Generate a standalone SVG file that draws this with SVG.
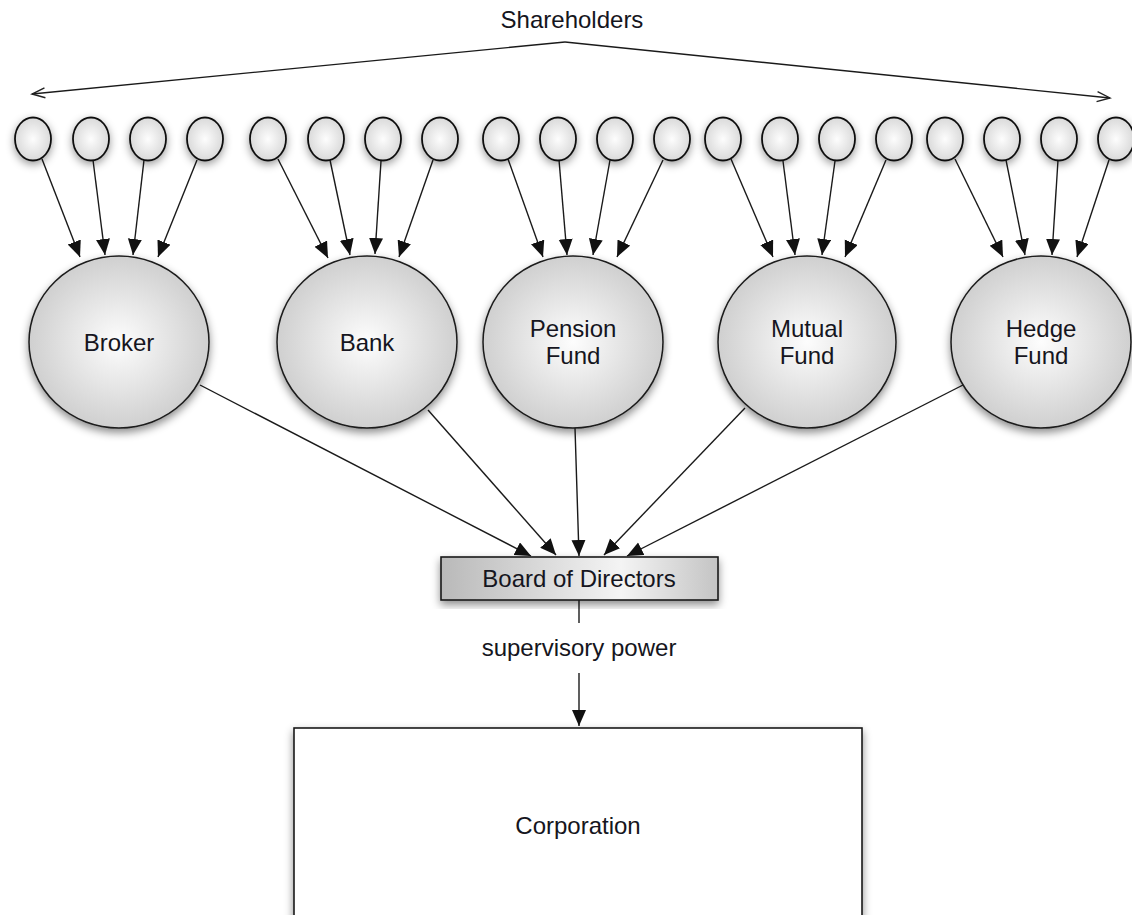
<svg xmlns="http://www.w3.org/2000/svg" width="1132" height="915" viewBox="0 0 1132 915">
<style>
text{font-family:"Liberation Sans",Arial,sans-serif;font-size:24px;fill:#151520;text-anchor:middle}
.sh{fill:url(#gs);stroke:#111;stroke-width:1.8;filter:url(#shadow)}
.big{fill:url(#gb);stroke:#1a1a1a;stroke-width:1.5;filter:url(#shadow2)}
.c{stroke:#1a1a1a;stroke-width:1.4;fill:none}
.a{marker-end:url(#ah)}
.o{marker-end:url(#oh)}
</style>
<defs>
<radialGradient id="gs" cx="50%" cy="50%" r="55%"><stop offset="0" stop-color="#fdfdfd"/><stop offset="1" stop-color="#d6d6d6"/></radialGradient>
<radialGradient id="gb" cx="50%" cy="50%" r="55%"><stop offset="0" stop-color="#fdfdfd"/><stop offset="1" stop-color="#cbcbcb"/></radialGradient>
<linearGradient id="gr" x1="0" y1="0" x2="1" y2="0"><stop offset="0" stop-color="#b9b9b9"/><stop offset="0.65" stop-color="#f4f4f4"/><stop offset="1" stop-color="#c4c4c4"/></linearGradient>
<filter id="shadow" x="-60%" y="-60%" width="220%" height="220%"><feDropShadow dx="0" dy="3" stdDeviation="4.5" flood-color="#000" flood-opacity="0.4"/></filter>
<filter id="shadow2" x="-20%" y="-20%" width="140%" height="140%"><feDropShadow dx="0" dy="4" stdDeviation="4" flood-color="#000" flood-opacity="0.45"/></filter>
<marker id="ah" markerUnits="userSpaceOnUse" markerWidth="17" markerHeight="15" refX="16" refY="7" orient="auto"><path d="M0,0 L16,7 L0,14 z" fill="#111"/></marker>
<marker id="oh" markerUnits="userSpaceOnUse" markerWidth="16" markerHeight="14" refX="14" refY="6" orient="auto"><path d="M1,1 L14,6 L1,11" fill="none" stroke="#222" stroke-width="1.4"/></marker>
</defs>
<rect width="1132" height="915" fill="#fff"/>

<g id="shareholders-label"><text x="572" y="28">Shareholders</text></g>

<g id="connectors">
<line class="c o" x1="565" y1="42" x2="32" y2="94"/>
<line class="c o" x1="565" y1="42" x2="1110" y2="98"/>
<line class="c a" x1="42" y1="159" x2="80" y2="257"/>
<line class="c a" x1="93" y1="160" x2="105" y2="255"/>
<line class="c a" x1="144" y1="160" x2="133" y2="255"/>
<line class="c a" x1="197" y1="160" x2="158" y2="257"/>
<line class="c a" x1="278" y1="159" x2="328" y2="258"/>
<line class="c a" x1="330" y1="160" x2="350" y2="255"/>
<line class="c a" x1="381" y1="161" x2="375" y2="254"/>
<line class="c a" x1="433" y1="160" x2="399" y2="257"/>
<line class="c a" x1="508" y1="159" x2="543" y2="257"/>
<line class="c a" x1="559" y1="160" x2="567" y2="255"/>
<line class="c a" x1="610" y1="160" x2="593" y2="255"/>
<line class="c a" x1="663" y1="160" x2="617" y2="257"/>
<line class="c a" x1="731" y1="159" x2="773" y2="257"/>
<line class="c a" x1="783" y1="161" x2="795" y2="255"/>
<line class="c a" x1="835" y1="161" x2="822" y2="255"/>
<line class="c a" x1="886" y1="160" x2="845" y2="257"/>
<line class="c a" x1="955" y1="159" x2="1003" y2="257"/>
<line class="c a" x1="1006" y1="160" x2="1025" y2="255"/>
<line class="c a" x1="1058" y1="160" x2="1052" y2="255"/>
<line class="c a" x1="1109" y1="160" x2="1077" y2="257"/>
<line class="c a" x1="200" y1="385" x2="531" y2="556"/>
<line class="c a" x1="428" y1="410" x2="556" y2="555"/>
<line class="c a" x1="575" y1="428" x2="579" y2="556"/>
<line class="c a" x1="745" y1="408" x2="604" y2="555"/>
<line class="c a" x1="963" y1="385" x2="627" y2="556"/>
<line class="c" x1="579" y1="600" x2="579" y2="623"/>
<line class="c a" x1="579" y1="673" x2="579" y2="726"/>
</g>

<g id="small-circles">
<g id="s1"><ellipse class="sh" cx="33" cy="139" rx="18" ry="21.5"/></g>
<g id="s2"><ellipse class="sh" cx="91" cy="139" rx="18" ry="21.5"/></g>
<g id="s3"><ellipse class="sh" cx="148" cy="139" rx="18" ry="21.5"/></g>
<g id="s4"><ellipse class="sh" cx="205" cy="139" rx="18" ry="21.5"/></g>
<g id="s5"><ellipse class="sh" cx="268" cy="139" rx="18" ry="21.5"/></g>
<g id="s6"><ellipse class="sh" cx="326" cy="139" rx="18" ry="21.5"/></g>
<g id="s7"><ellipse class="sh" cx="383" cy="139" rx="18" ry="21.5"/></g>
<g id="s8"><ellipse class="sh" cx="440" cy="139" rx="18" ry="21.5"/></g>
<g id="s9"><ellipse class="sh" cx="501" cy="139" rx="18" ry="21.5"/></g>
<g id="s10"><ellipse class="sh" cx="558" cy="139" rx="18" ry="21.5"/></g>
<g id="s11"><ellipse class="sh" cx="615" cy="139" rx="18" ry="21.5"/></g>
<g id="s12"><ellipse class="sh" cx="672" cy="139" rx="18" ry="21.5"/></g>
<g id="s13"><ellipse class="sh" cx="723" cy="139" rx="18" ry="21.5"/></g>
<g id="s14"><ellipse class="sh" cx="780" cy="139" rx="18" ry="21.5"/></g>
<g id="s15"><ellipse class="sh" cx="837" cy="139" rx="18" ry="21.5"/></g>
<g id="s16"><ellipse class="sh" cx="894" cy="139" rx="18" ry="21.5"/></g>
<g id="s17"><ellipse class="sh" cx="945" cy="139" rx="18" ry="21.5"/></g>
<g id="s18"><ellipse class="sh" cx="1002" cy="139" rx="18" ry="21.5"/></g>
<g id="s19"><ellipse class="sh" cx="1059" cy="139" rx="18" ry="21.5"/></g>
<g id="s20"><ellipse class="sh" cx="1116" cy="139" rx="18" ry="21.5"/></g>
</g>

<g id="broker"><ellipse class="big" cx="119" cy="342" rx="90" ry="86"/><text x="119" y="351">Broker</text></g>
<g id="bank"><ellipse class="big" cx="367" cy="342" rx="90" ry="86"/><text x="367" y="351">Bank</text></g>
<g id="pension-fund"><ellipse class="big" cx="573" cy="342" rx="90" ry="86"/><text x="573" y="337">Pension</text><text x="573" y="364">Fund</text></g>
<g id="mutual-fund"><ellipse class="big" cx="807" cy="342" rx="89" ry="86"/><text x="807" y="337">Mutual</text><text x="807" y="364">Fund</text></g>
<g id="hedge-fund"><ellipse class="big" cx="1041" cy="342" rx="90" ry="86"/><text x="1041" y="337">Hedge</text><text x="1041" y="364">Fund</text></g>

<g id="board"><rect x="441" y="557" width="277" height="43" fill="url(#gr)" stroke="#1a1a1a" stroke-width="1.6" filter="url(#shadow2)"/><text x="579" y="587">Board of Directors</text></g>

<g id="supervisory-label"><text x="579" y="656">supervisory power</text></g>

<g id="corporation"><rect x="294" y="728" width="568" height="200" fill="#fff" stroke="#1a1a1a" stroke-width="1.6" filter="url(#shadow2)"/><text x="578" y="834">Corporation</text></g>
</svg>
